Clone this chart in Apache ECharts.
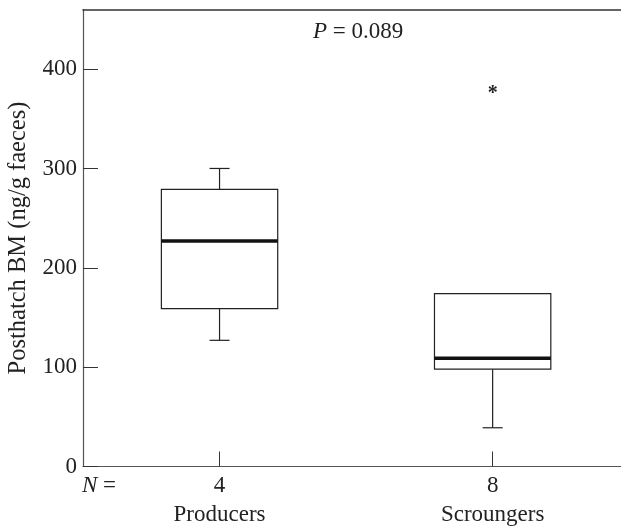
<!DOCTYPE html>
<html>
<head>
<meta charset="utf-8">
<script src="https://cdn.jsdelivr.net/npm/echarts@6/dist/echarts.min.js"></script>
<style>
html,body{margin:0;padding:0;background:#fff;overflow:hidden;}
#c{width:621px;height:528px;}
</style>
</head>
<body>
<div id="c"></div>
<script>
var categories = ['Producers', 'Scroungers'];
var nValues = ['4', '8'];
var whiskerLow = [127, 39];
var q1 = [159, 98];
var median = [227, 109];
var q3 = [279, 174];
var whiskerHigh = [300, 174];
var outliers = [[1, 379]];
var yTicks = [0, 100, 200, 300, 400];

var FONT = 'Liberation Serif';
var FS = 23;
var catIdx = categories.map(function (c, i) { return i; });
var boxData = categories.map(function (c, i) {
  return [i, whiskerLow[i], q1[i], median[i], q3[i], whiskerHigh[i]];
});

var chart = echarts.init(document.getElementById('c'), null, {renderer: 'canvas'});
chart.setOption({
  animation: false,
  backgroundColor: '#fff',
  grid: {left: 83, top: 9.5, right: 0, bottom: 61.5, show: false, borderWidth: 0, borderColor: 'transparent',
    containLabel: false, outerBoundsMode: 'none'},
  title: {
    text: '{i|P} = 0.089', left: 308, top: 15,
    textStyle: {fontFamily: FONT, fontSize: FS, fontWeight: 'normal', color: '#222',
      rich: {i: {fontFamily: FONT, fontSize: FS, fontStyle: 'italic', color: '#222'}}}
  },
  graphic: [{
    type: 'text', left: 82, top: 474,
    style: {text: '{i|N} =', fill: '#222', font: FS + 'px "' + FONT + '"',
      rich: {i: {fontFamily: FONT, fontSize: FS, fontStyle: 'italic', fill: '#222'}}}
  }],
  xAxis: [{
    type: 'value', min: -0.5, max: 1.47,
    axisLine: {show: true, onZero: false, lineStyle: {color: '#555', width: 1.2}},
    axisTick: {show: true, inside: true, length: 15, customValues: catIdx, lineStyle: {color: '#333', width: 1}},
    axisLabel: {
      margin: 5, customValues: catIdx,
      formatter: function (v) { var i = Math.round(v); return '{n|' + nValues[i] + '}\n{c|' + categories[i] + '}'; },
      rich: {
        n: {fontFamily: FONT, fontSize: FS, color: '#222', lineHeight: 29},
        c: {fontFamily: FONT, fontSize: FS, color: '#222', lineHeight: 29}
      }
    },
    splitLine: {show: false}
  }, {
    type: 'value', min: -0.5, max: 1.47, position: 'top',
    axisLine: {show: true, onZero: false, lineStyle: {color: '#333', width: 1.5}},
    axisTick: {show: false}, axisLabel: {show: false}, splitLine: {show: false}
  }],
  yAxis: {
    type: 'value', min: 0, max: 460, interval: 100,
    name: 'Posthatch BM (ng/g faeces)', nameLocation: 'middle', nameGap: 52,
    nameTextStyle: {fontFamily: FONT, fontSize: 24.5, color: '#222'},
    axisLine: {show: true, onZero: false, lineStyle: {color: '#555', width: 1.2}},
    axisTick: {show: true, inside: true, length: 15, customValues: yTicks, lineStyle: {color: '#333'}},
    axisLabel: {fontFamily: FONT, fontSize: FS, color: '#222', margin: 6, customValues: yTicks},
    splitLine: {show: false}
  },
  series: [{
    type: 'custom',
    data: boxData,
    encode: {x: 0, y: [1, 2, 3, 4, 5]},
    renderItem: function (params, api) {
      var idx = api.value(0);
      var band = api.size([1, 0])[0];
      var half = band * 0.213;
      var cap = 10;
      var pLow = api.coord([idx, api.value(1)]);
      var pQ1 = api.coord([idx, api.value(2)]);
      var pMed = api.coord([idx, api.value(3)]);
      var pQ3 = api.coord([idx, api.value(4)]);
      var pHigh = api.coord([idx, api.value(5)]);
      var x = pMed[0];
      var ls = {stroke: '#222', lineWidth: 1.2, fill: null};
      var children = [
        {type: 'line', shape: {x1: x, y1: pQ1[1], x2: x, y2: pLow[1]}, style: ls},
        {type: 'line', shape: {x1: x - cap, y1: pLow[1], x2: x + cap, y2: pLow[1]}, style: ls},
        {type: 'line', shape: {x1: x, y1: pQ3[1], x2: x, y2: pHigh[1]}, style: ls},
        {type: 'line', shape: {x1: x - cap, y1: pHigh[1], x2: x + cap, y2: pHigh[1]}, style: ls},
        {type: 'rect', shape: {x: x - half, y: pQ3[1], width: half * 2, height: pQ1[1] - pQ3[1]},
          style: {stroke: '#222', lineWidth: 1.2, fill: '#fff'}},
        {type: 'line', shape: {x1: x - half, y1: pMed[1], x2: x + half, y2: pMed[1]},
          style: {stroke: '#111', lineWidth: 3.5}}
      ];
      return {type: 'group', children: children};
    }
  }, {
    type: 'custom',
    data: outliers,
    encode: {x: 0, y: 1},
    renderItem: function (params, api) {
      var p = api.coord([api.value(0), api.value(1)]);
      return {type: 'text', x: p[0], y: p[1] + 4,
        style: {text: '*', fontFamily: FONT, fontSize: 20, fontWeight: 'bold', fill: '#222', align: 'center', verticalAlign: 'middle'}};
    }
  }]
});
</script>
</body>
</html>
